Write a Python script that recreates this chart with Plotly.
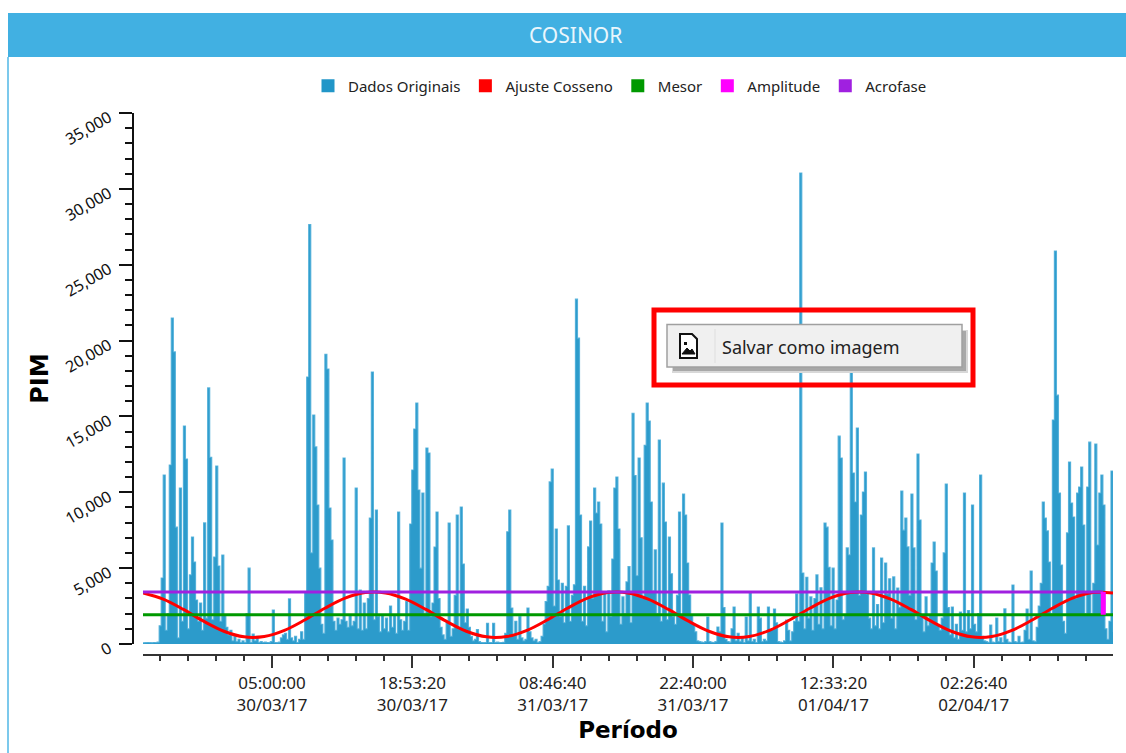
import pandas as pd
import plotly.graph_objects as go

W, H = 1126, 753
TITLE = "COSINOR"
START = "2017-03-29 16:13:45"
SAMPLE_MIN = 12
FIT_STEP_H = 2

dados = [
 80,90,100,90,80,100,90,120,1200,4350,11140,900,2000,11800,21480,19250,7700,400,10280,1500,
 14370,12190,1000,4550,7050,5400,2900,1500,2700,900,7980,1700,16880,12300,1600,5730,11730,5140,1500,5860,
 1900,1100,600,900,200,500,150,300,100,200,100,2000,5000,100,650,200,500,100,150,100,
 120,100,90,150,2240,100,90,120,400,600,700,300,2970,400,200,500,100,300,800,300,
 3400,17600,27650,6000,15090,12990,9160,5000,1300,700,19100,18120,8960,6850,1500,900,1700,1300,1600,12260,
 1500,1100,1900,1200,1500,10280,1000,3560,900,2700,1000,3000,8300,17930,1600,8830,1800,800,1900,1000,
 1700,800,2500,1100,1900,700,8700,1600,900,1500,2800,900,7910,11470,14170,15880,10150,5000,9950,2000,
 12920,12590,1800,2700,6390,8700,3000,1100,600,300,1500,7970,500,1000,3200,8500,1000,9030,5270,1400,
 2300,1100,500,200,300,950,150,100,90,100,1360,100,100,1360,100,120,90,100,110,700,
 7400,8830,2370,600,1500,300,1800,400,200,300,2370,800,400,200,300,100,150,500,1300,2800,
 3800,10680,11530,2500,7580,4220,1800,4000,1400,3800,7780,1500,3200,3900,22730,20160,8500,1500,3800,1200,
 6400,8100,3000,10280,8630,9360,7910,1500,3400,800,3500,1800,5600,10280,11000,7580,1300,3100,2000,4090,
 5100,1400,15200,11100,4500,12260,7000,3000,13100,15880,14700,9360,3500,6200,2000,13440,1500,10600,8040,1600,
 7050,4630,1800,1300,3200,8700,1900,9880,8500,5340,3230,1900,1300,800,200,150,120,100,150,1780,
 150,110,100,150,1120,800,7970,2400,300,150,120,1000,2440,200,700,150,400,100,1780,200,
 3360,150,300,100,2440,1700,150,300,200,2440,900,1000,2300,1400,150,120,100,200,1580,900,
 200,800,1500,3300,1500,31040,4680,1000,4400,1700,3100,900,3000,4550,1300,3700,1000,7970,7700,5050,
 1200,5000,1000,2900,13700,12260,1600,1900,6330,5870,18800,11270,9360,14230,3200,8500,10020,11330,3300,1700,
 1000,6330,1200,2600,1000,5670,1400,5340,3300,4300,1700,4420,1000,3690,2400,10080,7500,8300,6400,3200,
 9880,6330,1600,12520,8170,1900,800,3100,1200,1900,5340,6720,4810,1300,900,1700,6000,10540,2400,600,
 2440,400,1300,300,2110,900,9950,800,2200,1000,9160,1300,800,2000,11140,500,200,150,100,1250,
 120,100,1710,150,400,100,2310,300,120,100,3890,150,110,500,100,120,900,2300,300,4810,
 200,150,1100,2500,4000,9360,8300,7450,5400,2000,14760,25900,16400,9950,5200,1500,700,7320,11990,9290,
 8370,3000,9950,10350,11660,7840,2000,10350,13300,2000,4000,13180,6520,9950,11140,9160,1000,300,1500,11400,
 790,
]
ajuste = [
 3368,2962,2280,1504,842,472,492,898,1580,2356,3018,3388,
 3368,2962,2280,1504,842,472,492,898,1580,2356,3018,3388,
 3368,2962,2280,1504,842,472,492,898,1580,2356,3018,3388,
 3368,2962,2280,1504,842,472,492,898,1580,2356,3018,3388,
 3368,
]
mesor_val = 1930
acrofase_val = 3430
amplitude_time = "2017-04-02 15:16:00"
series_names = ["Dados Originais", "Ajuste Cosseno", "Mesor", "Amplitude", "Acrofase"]
series_colors = ["#2196C8", "#FF0000", "#009900", "#FF00FF", "#A020E0"]
y_ticks = [0, 5000, 10000, 15000, 20000, 25000, 30000, 35000]
x_ticks = ["2017-03-30 05:00:00", "2017-03-30 18:53:20", "2017-03-31 08:46:40",
           "2017-03-31 22:40:00", "2017-04-01 12:33:20", "2017-04-02 02:26:40"]
x_labels = ["05:00:00<br>30/03/17", "18:53:20<br>30/03/17", "08:46:40<br>31/03/17",
            "22:40:00<br>31/03/17", "12:33:20<br>01/04/17", "02:26:40<br>02/04/17"]

t_data = pd.date_range(START, periods=len(dados), freq=f"{SAMPLE_MIN}min")
t_fit = pd.date_range(START, periods=len(ajuste), freq=f"{FIT_STEP_H}h")
t_end = t_data[-1]

# plot-area geometry, in page pixels
L, R, T, B = 133, 1113, 113, 655
X0 = 143
Y0 = 644


def px(x):
    return (x - L) / (R - L)


def py(y):
    return (B - y) / (B - T)


def rect(x0, y0, x1, y1, fill, line=None, lw=0):
    return dict(type="rect", xref="paper", yref="paper", x0=px(x0), x1=px(x1), y0=py(y0), y1=py(y1),
                fillcolor=fill, line=dict(color=line or fill, width=lw), layer="above")


def poly(points, fill, line, lw):
    d = "M " + " L ".join(f"{px(a):.5f},{py(b):.5f}" for a, b in points) + " Z"
    return dict(type="path", xref="paper", yref="paper", path=d, fillcolor=fill,
                line=dict(color=line, width=lw), layer="above")


fig = go.Figure()
fig.add_trace(go.Scatter(x=t_data, y=dados, mode="lines", showlegend=False, fill="tozeroy",
                         fillcolor="rgba(33,150,200,0.95)",
                         line=dict(color="rgba(70,170,215,0.85)", width=1.2, shape="hv")))
fig.add_trace(go.Scatter(x=t_fit, y=ajuste, mode="lines", showlegend=False,
                         line=dict(color=series_colors[1], width=3, shape="spline", smoothing=1)))
fig.add_trace(go.Scatter(x=[t_data[0], t_end], y=[mesor_val, mesor_val], mode="lines", showlegend=False,
                         line=dict(color=series_colors[2], width=3)))
fig.add_trace(go.Scatter(x=[t_data[0], amplitude_time], y=[acrofase_val, acrofase_val], mode="lines", showlegend=False,
                         line=dict(color=series_colors[4], width=3)))
fig.add_trace(go.Scatter(x=[amplitude_time, amplitude_time], y=[mesor_val, acrofase_val], mode="lines", showlegend=False,
                         line=dict(color=series_colors[3], width=5)))
for name, color in zip(series_names, series_colors):
    fig.add_trace(go.Scatter(x=[None], y=[None], mode="markers", name=name,
                             marker=dict(symbol="square", size=13, color=color)))

shapes = [
    # panel header and left border
    rect(8, 13, W, 57, "#41B0E2"),
    rect(7, 57, 9, H, "#7CC9EC"),
    # context menu: soft shadow, shadow, body, separator
    rect(672, 330, 968, 373, "#D8D8D8"),
    rect(673, 331, 966, 371, "#A8A8A8"),
    rect(667, 324.5, 962, 367, "#F0F0F0", "#A0A0A0", 1.5),
    rect(714.5, 329, 715.5, 363, "#DDDDDD"),
    # icon
    poly([(680, 334), (692, 334), (697, 339), (697, 358), (680, 358)], "#FFFFFF", "#111111", 2),
    poly([(682, 354), (687, 348), (690, 351), (692, 349), (695, 354)], "#111111", "#111111", 1),
    rect(684, 342, 687, 345, "#111111"),
    # red highlight
    dict(type="rect", xref="paper", yref="paper", x0=px(654), x1=px(973), y0=py(310), y1=py(385),
         line=dict(color="#FF0000", width=5), fillcolor="rgba(0,0,0,0)", layer="above"),
]

annotations = [
    dict(text=TITLE, xref="paper", yref="paper", x=px(575.5), y=py(35), showarrow=False,
         font=dict(family="Noto Sans", size=21, color="#EAF6FC"), xanchor="center", yanchor="middle"),
    dict(text="Salvar como imagem", xref="paper", yref="paper", x=px(720), y=py(347), showarrow=False,
         font=dict(family="Noto Sans", size=18, color="#222222"), xanchor="left", yanchor="middle"),
]

fig.update_layout(
    width=W, height=H, margin=dict(l=L, r=W - R, t=T, b=H - B, autoexpand=False),
    paper_bgcolor="white", plot_bgcolor="white",
    font=dict(family="Noto Sans", color="#111111"),
    shapes=shapes, annotations=annotations,
    legend=dict(orientation="h", x=px(308), y=py(86), xanchor="left", yanchor="middle",
                font=dict(family="Noto Sans", size=15, color="#222222"),
                bgcolor="rgba(0,0,0,0)", itemclick=False),
    xaxis=dict(type="date", range=[t_data[0], t_end], domain=[px(X0), 1], anchor="free", position=0,
               automargin=False,
               showgrid=False, zeroline=False, showline=True, linecolor="#333333", linewidth=1.5,
               tickmode="array", tickvals=x_ticks, ticktext=x_labels, ticks="outside", ticklen=12,
               tickwidth=1.5, tickcolor="#333333", ticklabelstandoff=1,
               tickfont=dict(family="Noto Sans", size=17, color="#222222"),
               minor=dict(ticks="outside", ticklen=5, tickwidth=1.5, tickcolor="#333333",
                          tick0="2017-03-30 05:00:00", dtick=10000000, showgrid=False),
               title=dict(text="<b>Período</b>", font=dict(family="DejaVu Sans", size=23, color="#000000"),
                          standoff=6)),
    yaxis=dict(range=[0, 35000], domain=[py(Y0), 1], anchor="free", position=0, showgrid=False,
               automargin=False,
               zeroline=False, showline=True, linecolor="#111111", linewidth=1.5,
               tickmode="array", tickvals=y_ticks, tickformat=",", ticks="outside", ticklen=13,
               tickwidth=1.5, tickcolor="#111111", tickangle=-30, ticklabelstandoff=7, ticklabelshift=3,
               tickfont=dict(family="Noto Sans", size=16, color="#111111"),
               minor=dict(ticks="outside", ticklen=7, tickwidth=1.5, tickcolor="#111111", dtick=1000,
                          showgrid=False),
               title=dict(text="<b>PIM</b>", font=dict(family="DejaVu Sans", size=24, color="#000000"),
                          standoff=5)),
)

fig.write_html("out.html", config=dict(displayModeBar=False),
               post_script="document.body.style.margin='0';document.body.style.overflow='hidden';window.dispatchEvent(new Event('resize'));")
